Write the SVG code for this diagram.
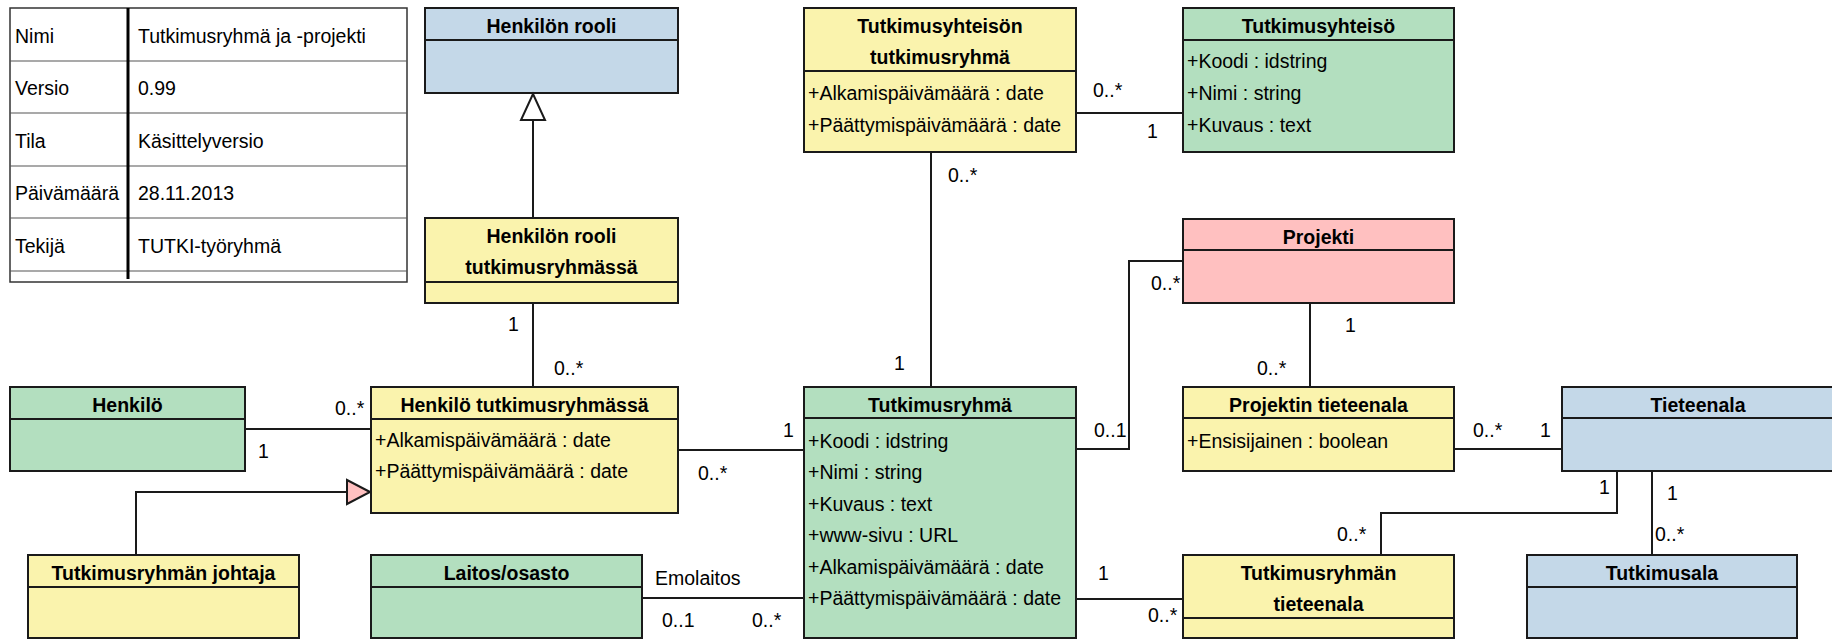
<svg xmlns="http://www.w3.org/2000/svg" width="1832" height="639" viewBox="0 0 1832 639">
<style>
text{font-family:"Liberation Sans",Arial,sans-serif;font-size:19.5px;fill:#000}
.t{font-weight:bold;text-anchor:middle}
.box{stroke:#1a1a1a;stroke-width:2}
.div{stroke:#1a1a1a;stroke-width:2}
.g{fill:#B3DFBF}.y{fill:#FAF3AD}.b{fill:#C4D8E8}.p{fill:#FFC0C0}
.ln{fill:none;stroke:#1a1a1a;stroke-width:2}
.tl{stroke:#555;stroke-width:1.2}
</style>
<rect width="1832" height="639" fill="#fff"/>
<g id="info-table">
<rect x="10" y="8" width="397" height="274" fill="#fff" stroke="#333" stroke-width="1.5"/>
<line class="tl" x1="10" y1="61" x2="407" y2="61"/>
<line class="tl" x1="10" y1="113" x2="407" y2="113"/>
<line class="tl" x1="10" y1="166" x2="407" y2="166"/>
<line class="tl" x1="10" y1="218" x2="407" y2="218"/>
<line class="tl" x1="10" y1="271" x2="407" y2="271"/>
<line x1="128" y1="8" x2="128" y2="279" stroke="#000" stroke-width="3"/>
<text x="15" y="43">Nimi</text><text x="138" y="43">Tutkimusryhmä ja -projekti</text>
<text x="15" y="95">Versio</text><text x="138" y="95">0.99</text>
<text x="15" y="148">Tila</text><text x="138" y="148">Käsittelyversio</text>
<text x="15" y="200">Päivämäärä</text><text x="138" y="200">28.11.2013</text>
<text x="15" y="253">Tekijä</text><text x="138" y="253">TUTKI-työryhmä</text>
</g>
<g id="henkilon-rooli">
<rect class="box b" x="425" y="8" width="253" height="85"/>
<line class="div" x1="425" y1="40" x2="678" y2="40"/>
<text class="t" x="551.5" y="33">Henkilön rooli</text>
</g>
<g id="henkilon-rooli-tutkimusryhmassa">
<rect class="box y" x="425" y="218" width="253" height="85"/>
<line class="div" x1="425" y1="282" x2="678" y2="282"/>
<text class="t" x="551.5" y="243">Henkilön rooli</text>
<text class="t" x="551.5" y="274">tutkimusryhmässä</text>
</g>
<g id="tutkimusyhteison-tutkimusryhma">
<rect class="box y" x="804" y="8" width="272" height="144"/>
<line class="div" x1="804" y1="71" x2="1076" y2="71"/>
<text class="t" x="940" y="33">Tutkimusyhteisön</text>
<text class="t" x="940" y="64">tutkimusryhmä</text>
<text x="808" y="100">+Alkamispäivämäärä : date</text>
<text x="808" y="132">+Päättymispäivämäärä : date</text>
</g>
<g id="tutkimusyhteiso">
<rect class="box g" x="1183" y="8" width="271" height="144"/>
<line class="div" x1="1183" y1="40" x2="1454" y2="40"/>
<text class="t" x="1318.5" y="33">Tutkimusyhteisö</text>
<text x="1187" y="68">+Koodi : idstring</text>
<text x="1187" y="100">+Nimi : string</text>
<text x="1187" y="132">+Kuvaus : text</text>
</g>
<g id="projekti">
<rect class="box p" x="1183" y="219" width="271" height="84"/>
<line class="div" x1="1183" y1="250" x2="1454" y2="250"/>
<text class="t" x="1318.5" y="244">Projekti</text>
</g>
<g id="henkilo">
<rect class="box g" x="10" y="387" width="235" height="84"/>
<line class="div" x1="10" y1="419" x2="245" y2="419"/>
<text class="t" x="127.5" y="412">Henkilö</text>
</g>
<g id="henkilo-tutkimusryhmassa">
<rect class="box y" x="371" y="387" width="307" height="126"/>
<line class="div" x1="371" y1="419" x2="678" y2="419"/>
<text class="t" x="524.5" y="412">Henkilö tutkimusryhmässä</text>
<text x="375" y="447">+Alkamispäivämäärä : date</text>
<text x="375" y="478">+Päättymispäivämäärä : date</text>
</g>
<g id="tutkimusryhma">
<rect class="box g" x="804" y="387" width="272" height="251"/>
<line class="div" x1="804" y1="418" x2="1076" y2="418"/>
<text class="t" x="940" y="412">Tutkimusryhmä</text>
<text x="808" y="448">+Koodi : idstring</text>
<text x="808" y="479">+Nimi : string</text>
<text x="808" y="511">+Kuvaus : text</text>
<text x="808" y="542">+www-sivu : URL</text>
<text x="808" y="574">+Alkamispäivämäärä : date</text>
<text x="808" y="605">+Päättymispäivämäärä : date</text>
</g>
<g id="projektin-tieteenala">
<rect class="box y" x="1183" y="387" width="271" height="84"/>
<line class="div" x1="1183" y1="418" x2="1454" y2="418"/>
<text class="t" x="1318.5" y="412">Projektin tieteenala</text>
<text x="1187" y="448">+Ensisijainen : boolean</text>
</g>
<g id="tieteenala">
<rect class="box b" x="1562" y="387" width="272" height="84"/>
<line class="div" x1="1562" y1="418" x2="1834" y2="418"/>
<text class="t" x="1698" y="412">Tieteenala</text>
</g>
<g id="tutkimusryhman-johtaja">
<rect class="box y" x="28" y="555" width="271" height="83"/>
<line class="div" x1="28" y1="587" x2="299" y2="587"/>
<text class="t" x="163.5" y="580">Tutkimusryhmän johtaja</text>
</g>
<g id="laitos-osasto">
<rect class="box g" x="371" y="555" width="271" height="83"/>
<line class="div" x1="371" y1="587" x2="642" y2="587"/>
<text class="t" x="506.5" y="580">Laitos/osasto</text>
</g>
<g id="tutkimusryhman-tieteenala">
<rect class="box y" x="1183" y="555" width="271" height="83"/>
<line class="div" x1="1183" y1="618" x2="1454" y2="618"/>
<text class="t" x="1318.5" y="580">Tutkimusryhmän</text>
<text class="t" x="1318.5" y="611">tieteenala</text>
</g>
<g id="tutkimusala">
<rect class="box b" x="1527" y="555" width="270" height="83"/>
<line class="div" x1="1527" y1="587" x2="1797" y2="587"/>
<text class="t" x="1662" y="580">Tutkimusala</text>
</g>
<g id="connectors">
<line class="ln" x1="533" y1="120" x2="533" y2="218"/>
<polygon points="533,94 521,120 545,120" fill="#fff" stroke="#1a1a1a" stroke-width="2"/>
<line class="ln" x1="533" y1="303" x2="533" y2="387"/>
<text x="508" y="331">1</text><text x="554" y="375">0..*</text>
<line class="ln" x1="245" y1="429" x2="371" y2="429"/>
<text x="335" y="415">0..*</text><text x="258" y="458">1</text>
<polyline class="ln" points="136,555 136,492 347,492"/>
<polygon points="370,492 347,480 347,504" fill="#FFC0C0" stroke="#1a1a1a" stroke-width="2"/>
<line class="ln" x1="678" y1="450" x2="804" y2="450"/>
<text x="783" y="437">1</text><text x="698" y="480">0..*</text>
<line class="ln" x1="931" y1="152" x2="931" y2="387"/>
<text x="948" y="182">0..*</text><text x="894" y="370">1</text>
<line class="ln" x1="1076" y1="113" x2="1183" y2="113"/>
<text x="1093" y="97">0..*</text><text x="1147" y="138">1</text>
<polyline class="ln" points="1183,261 1129,261 1129,449 1076,449"/>
<text x="1151" y="290">0..*</text><text x="1094" y="437">0..1</text>
<line class="ln" x1="1310" y1="303" x2="1310" y2="387"/>
<text x="1345" y="332">1</text><text x="1257" y="375">0..*</text>
<line class="ln" x1="1454" y1="449" x2="1562" y2="449"/>
<text x="1473" y="437">0..*</text><text x="1540" y="437">1</text>
<polyline class="ln" points="1617,471 1617,513 1381,513 1381,555"/>
<text x="1599" y="494">1</text><text x="1337" y="541">0..*</text>
<line class="ln" x1="1652" y1="471" x2="1652" y2="555"/>
<text x="1667" y="500">1</text><text x="1655" y="541">0..*</text>
<line class="ln" x1="642" y1="598" x2="804" y2="598"/>
<text x="655" y="585">Emolaitos</text><text x="662" y="627">0..1</text><text x="752" y="627">0..*</text>
<line class="ln" x1="1076" y1="599" x2="1183" y2="599"/>
<text x="1098" y="580">1</text><text x="1148" y="622">0..*</text>
</g>
</svg>
